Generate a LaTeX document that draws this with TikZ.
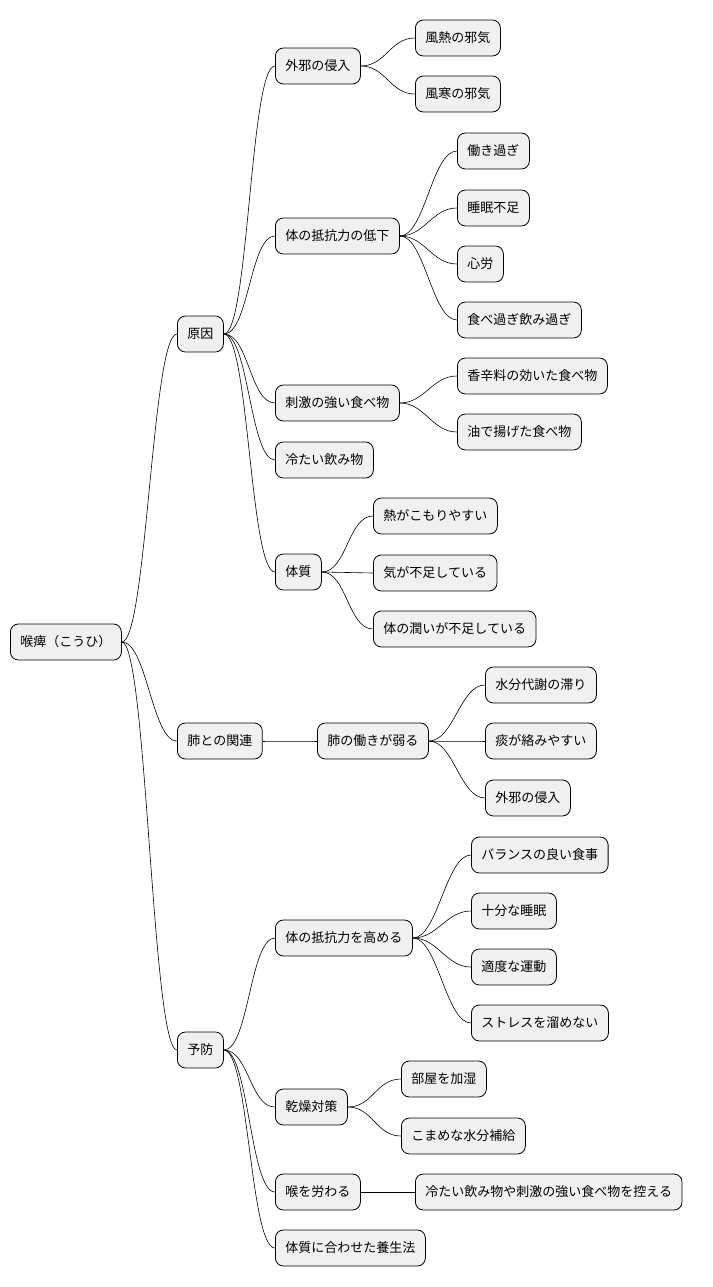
\documentclass[tikz,border=0pt]{standalone}
\usepackage{fontspec}
\newfontfamily\jp{Noto Sans CJK JP}
\begin{document}
\begin{tikzpicture}[x=1pt,y=-1pt,
  nd/.style={draw=black,fill=gray!12,rounded corners=8pt,minimum height=36pt,inner xsep=10pt,anchor=west,font=\jp\fontsize{13}{15}\selectfont,line width=0.8pt},
  ed/.style={line width=0.6pt}]
\useasboundingbox (0,0) rectangle (712,1287);
\node[nd] (r) at (10,642) {喉痺（こうひ）};
\node[nd] (a) at (177,334) {原因};
\node[nd] (b) at (177,741) {肺との関連};
\node[nd] (c) at (177,1050) {予防};
\node[nd] (a1) at (275,66) {外邪の侵入};
\node[nd] (a2) at (275,236) {体の抵抗力の低下};
\node[nd] (a3) at (275,403) {刺激の強い食べ物};
\node[nd] (a4) at (275,460) {冷たい飲み物};
\node[nd] (a5) at (275,572) {体質};
\node[nd] (a11) at (415,38) {風熱の邪気};
\node[nd] (a12) at (415,94) {風寒の邪気};
\node[nd] (a21) at (457,151) {働き過ぎ};
\node[nd] (a22) at (457,208) {睡眠不足};
\node[nd] (a23) at (457,264) {心労};
\node[nd] (a24) at (457,320) {食べ過ぎ飲み過ぎ};
\node[nd] (a31) at (457,376) {香辛料の効いた食べ物};
\node[nd] (a32) at (457,432) {油で揚げた食べ物};
\node[nd] (a51) at (373,516) {熱がこもりやすい};
\node[nd] (a52) at (373,573) {気が不足している};
\node[nd] (a53) at (373,629) {体の潤いが不足している};
\node[nd] (b1) at (317,741) {肺の働きが弱る};
\node[nd] (b11) at (485,685) {水分代謝の滞り};
\node[nd] (b12) at (485,741) {痰が絡みやすい};
\node[nd] (b13) at (485,798) {外邪の侵入};
\node[nd] (c1) at (275,938) {体の抵抗力を高める};
\node[nd] (c2) at (275,1107) {乾燥対策};
\node[nd] (c3) at (275,1192) {喉を労わる};
\node[nd] (c4) at (275,1248) {体質に合わせた養生法};
\node[nd] (c11) at (471,855) {バランスの良い食事};
\node[nd] (c12) at (471,911) {十分な睡眠};
\node[nd] (c13) at (471,967) {適度な運動};
\node[nd] (c14) at (471,1023) {ストレスを溜めない};
\node[nd] (c21) at (401,1079) {部屋を加湿};
\node[nd] (c22) at (401,1136) {こまめな水分補給};
\node[nd] (c31) at (415,1192) {冷たい飲み物や刺激の強い食べ物を控える};
\foreach \p/\c in {r/a,r/b,r/c,a/a1,a/a2,a/a3,a/a4,a/a5,a1/a11,a1/a12,a2/a21,a2/a22,a2/a23,a2/a24,a3/a31,a3/a32,a5/a51,a5/a52,a5/a53,b/b1,b1/b11,b1/b12,b1/b13,c/c1,c/c2,c/c3,c/c4,c1/c11,c1/c12,c1/c13,c1/c14,c2/c21,c2/c22,c3/c31}
  \draw[ed] (\p.east) .. controls +(25,0) and +(-25,0) .. (\c.west);
\end{tikzpicture}
\end{document}
